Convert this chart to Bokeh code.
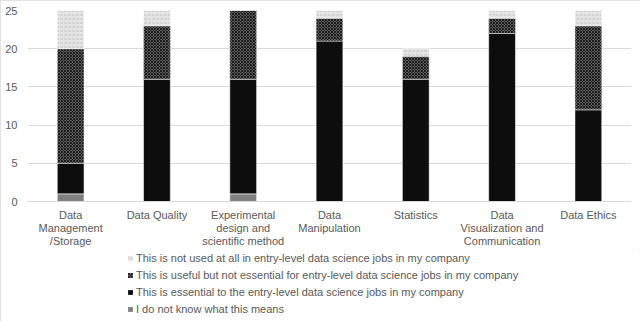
from bokeh.plotting import figure
from bokeh.layouts import column
from bokeh.models import Legend, LegendItem, FactorRange, Range1d, SingleIntervalTicker, ColumnDataSource
from bokeh.embed import file_html
from bokeh.resources import INLINE

categories = ["Data\nManagement\n/Storage", "Data Quality", "Experimental\ndesign and\nscientific method",
              "Data\nManipulation", "Statistics", "Data\nVisualization and\nCommunication", "Data Ethics"]
dont_know = [1, 0, 1, 0, 0, 0, 0]
essential = [4, 16, 15, 21, 16, 22, 12]
useful = [15, 7, 9, 3, 3, 2, 11]
not_used = [5, 2, 0, 1, 1, 1, 2]

labels = {
    "not_used": "This is not used at all in entry-level data science jobs in my company",
    "useful": "This is useful but not essential for entry-level data science jobs in my company",
    "essential": "This is essential to the entry-level data science jobs in my company",
    "dont_know": "I do not know what this means",
}
keys = ["dont_know", "essential", "useful", "not_used"]

src = ColumnDataSource(dict(cat=categories, dont_know=dont_know, essential=essential,
                            useful=useful, not_used=not_used))

p = figure(x_range=FactorRange(*categories, range_padding=0), y_range=Range1d(0, 25),
           width=640, height=249, output_backend="svg", toolbar_location=None,
           min_border_left=27, min_border_right=9, min_border_top=10, min_border_bottom=48)

styles = {
    "dont_know": dict(fill_color="#7f7f7f"),
    "essential": dict(fill_color="#0d0d0d"),
    "useful": dict(fill_color="#7c7c7c", hatch_pattern="diagonal_cross", hatch_color="#1a1a1a",
                   hatch_scale=3, hatch_weight=1.2),
    "not_used": dict(fill_color="#e4e4e4", hatch_pattern="horizontal_dash", hatch_color="#c4c4c4",
                     hatch_scale=4, hatch_weight=1),
}

renderers = p.vbar_stack(keys, x="cat", width=0.31, source=src, line_color="white", line_width=0.5,
                         fill_color=[styles[k]["fill_color"] for k in keys])
rmap = dict(zip(keys, renderers))
for k, r in rmap.items():
    for a, v in styles[k].items():
        setattr(r.glyph, a, v)

for ax in (p.xaxis[0], p.yaxis[0]):
    ax.major_tick_line_color = None
    ax.minor_tick_line_color = None
    ax.major_tick_out = 0
    ax.major_tick_in = 0
    ax.minor_tick_out = 0
    ax.major_label_text_font = "Liberation Sans"
    ax.major_label_text_font_size = "11px"
    ax.major_label_text_color = "#595959"

p.yaxis.ticker = SingleIntervalTicker(interval=5)
p.yaxis.axis_line_color = None
p.yaxis.major_label_standoff = 10

p.xaxis.axis_line_color = "#d9d9d9"
p.xaxis.major_label_text_line_height = 1.1
p.xaxis.major_label_standoff = 7

p.xgrid.grid_line_color = None
p.ygrid.grid_line_color = "#d9d9d9"
p.outline_line_color = None

# legend panel (its frame is aligned with the chart frame by the column layout)
pl = figure(width=640, height=72, output_backend="svg", toolbar_location=None,
            x_axis_type=None, y_axis_type=None, x_range=Range1d(0, 1), y_range=Range1d(0, 1),
            min_border_left=0, min_border_right=0, min_border_top=0, min_border_bottom=0)
pl.grid.visible = False
pl.outline_line_color = None
offscreen = ColumnDataSource(dict(x=[-10], top=[0]))
lrend = {}
for k in keys:
    lrend[k] = pl.vbar(x="x", top="top", width=0.3, source=offscreen, line_color=None, **styles[k])

items = [LegendItem(label=labels[k], renderers=[lrend[k]]) for k in ["not_used", "useful", "essential", "dont_know"]]
legend = Legend(items=items, location=(100, 5), orientation="vertical",
                glyph_width=6, glyph_height=6, label_standoff=3, spacing=2, label_height=15,
                label_text_font="Liberation Sans", label_text_font_size="11px", label_text_color="#595959",
                background_fill_alpha=0, border_line_color=None, padding=0, margin=0)
pl.add_layout(legend)

layout = column(p, pl, spacing=0)
layout.styles = {"outline": "1px solid #d9d9d9", "outline-offset": "-1px"}

open("out.html", "w").write(file_html(layout, INLINE))
